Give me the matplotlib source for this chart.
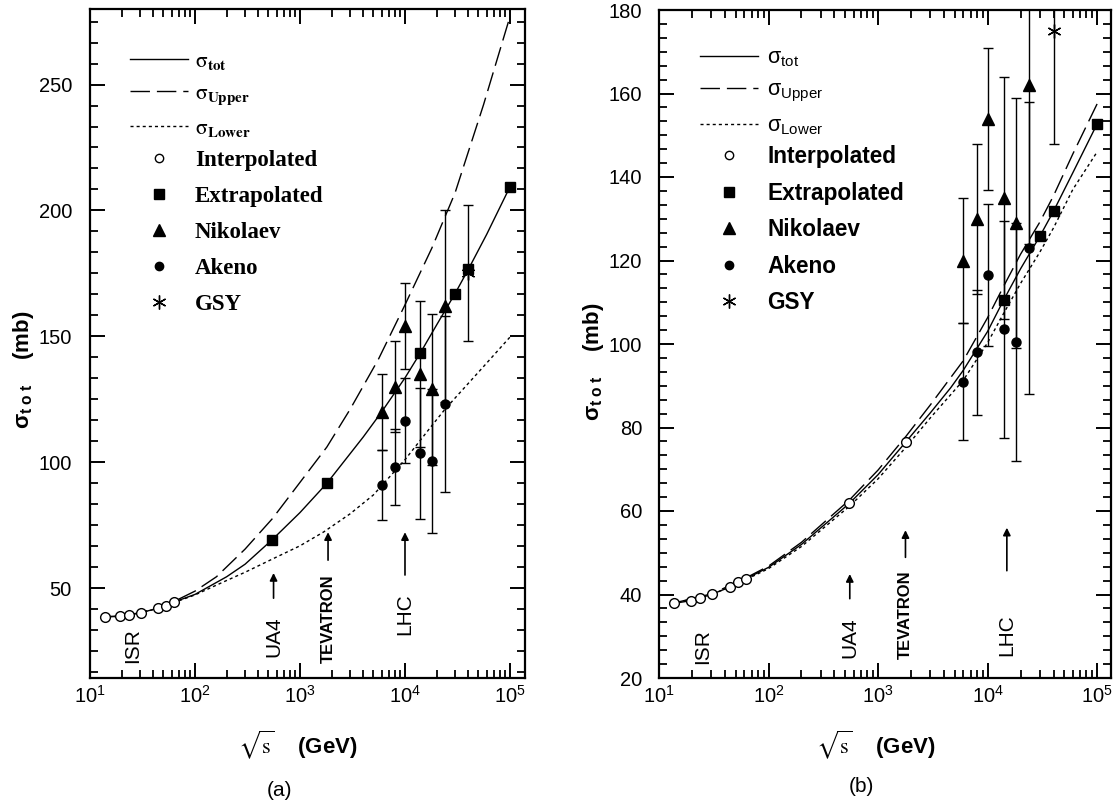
import matplotlib
matplotlib.use('Agg')
import matplotlib.pyplot as plt
from matplotlib.lines import Line2D
from matplotlib.font_manager import FontProperties
from matplotlib.ticker import LogLocator, MultipleLocator, NullFormatter

plt.rcParams['font.family'] = ['Liberation Sans', 'DejaVu Sans']
plt.rcParams['mathtext.fontset'] = 'custom'
plt.rcParams['mathtext.rm'] = 'Liberation Sans'
plt.rcParams['mathtext.bf'] = 'Liberation Sans:bold'
plt.rcParams['mathtext.it'] = 'Liberation Sans:italic'
plt.rcParams['mathtext.sf'] = 'Liberation Sans'
plt.rcParams['lines.scale_dashes'] = False

# ---------------- data: panel (a) ----------------
tot_a_x = [13.0, 13.8, 19.4, 23.5, 30.6, 44.7, 52.8, 62.5, 100, 200, 300, 546, 1000, 1800,
           4000, 6000, 10000, 14000, 20000, 30000, 40000, 60000, 100000]
tot_a_y = [38.6, 38.6, 38.8, 39.5, 40.2, 42.1, 43.0, 44.4, 47.5, 54.5, 59.5, 69.3, 80.0, 91.6,
           110.0, 120.0, 133.5, 143.4, 154.5, 167.0, 176.5, 190.5, 209.4]
up_a_x = [13.0, 20, 30, 45, 62.5, 100, 160, 300, 546, 1000, 1800, 3000, 5600, 10000,
          18000, 30000, 56000, 100000]
up_a_y = [38.6, 38.9, 40.2, 42.3, 44.6, 48.8, 54.5, 65.5, 77.6, 92.0, 106.0, 121.0, 141.0,
          162.5, 185.0, 207.0, 242.0, 277.0]
lo_a_x = [13.0, 20, 30, 45, 62.5, 100, 190, 300, 562, 1000, 1680, 3000, 5000, 10000,
          18000, 24000, 30000, 56000, 100000]
lo_a_y = [38.6, 38.8, 40.1, 42.0, 44.2, 47.3, 52.6, 56.3, 61.8, 66.8, 72.3, 79.5, 87.0,
          101.0, 114.5, 121.0, 125.5, 138.0, 149.7]
interp_a_x = [13.8, 19.4, 23.5, 30.6, 44.7, 52.8, 62.5]
interp_a_y = [38.6, 38.8, 39.5, 40.2, 42.1, 43.0, 44.4]
extrap_a_x = [546, 1800, 14000, 30000, 40000, 100000]
extrap_a_y = [69.3, 91.6, 143.4, 167.0, 176.9, 209.4]

# ---------------- data: panel (b) ----------------
tot_b_x = [13.0, 13.8, 19.4, 23.5, 30.6, 44.7, 52.8, 62.5, 100, 200, 546, 1000, 1800, 3000,
           4600, 6000, 10000, 14000, 20000, 30000, 40000, 60000, 100000]
tot_b_y = [37.8, 37.9, 38.5, 39.1, 40.1, 41.8, 42.9, 43.8, 46.5, 52.0, 61.8, 68.7, 76.6, 83.5,
           89.5, 93.7, 103.0, 110.5, 118.0, 125.8, 131.8, 141.0, 152.7]
up_b_x = [13.0, 30.6, 62.5, 100, 200, 546, 1000, 1800, 3000, 6000, 10000, 14000, 20000,
          30000, 40000, 60000, 100000]
up_b_y = [37.8, 40.2, 44.0, 46.8, 52.5, 62.6, 69.8, 77.9, 85.4, 96.0, 106.3, 113.8, 121.5,
          129.2, 135.5, 145.5, 157.5]
lo_b_x = up_b_x
lo_b_y = [37.8, 40.0, 43.6, 46.2, 51.5, 61.1, 67.7, 75.3, 82.3, 91.3, 100.3, 107.3, 114.5,
          122.0, 127.8, 137.0, 146.0]
interp_b_x = [13.8, 19.4, 23.5, 30.6, 44.7, 52.8, 62.5, 546, 1800]
interp_b_y = [37.9, 38.5, 39.1, 40.1, 41.8, 42.9, 43.8, 61.8, 76.6]
extrap_b_x = [14000, 30000, 40000, 100000]
extrap_b_y = [110.5, 125.8, 131.8, 152.7]

# ---------------- cosmic-ray data (both panels) ----------------
nik_x = [6000, 8000, 10000, 14000, 18000, 24000]
nik_y = [120.0, 130.0, 154.0, 135.0, 129.0, 162.0]
nik_e = [15.0, 18.0, 17.0, 29.0, 30.0, 38.0]
ake_x = [6000, 8000, 10000, 14000, 18000, 24000]
ake_y = [91.0, 98.0, 116.5, 103.5, 100.5, 123.0]
ake_e = [14.0, 15.0, 17.0, 26.0, 28.5, 35.0]
gsy_x = [40000]
gsy_y = [175.0]
gsy_e = [27.0]

# ---------------- annotations ----------------
lab_text = ['ISR', 'UA4', 'TEVATRON', 'LHC']
lab_a_x = [25.6, 560, 1850, 10000]
lab_a_y = [20.2, 22.6, 20.2, 31.3]
arr_a_x = [560, 1850, 10000]
arr_a_tail = [46.0, 61.1, 55.2]
arr_a_head = [56.0, 72.2, 72.2]
lab_b_x = [24.8, 552, 1780, 15000]
lab_b_y = [23.4, 24.8, 24.6, 25.3]
arr_b_x = [552, 1780, 15000]
arr_b_tail = [39.0, 48.9, 45.7]
arr_b_head = [44.9, 55.4, 56.0]

W, H = 1114, 807
fig = plt.figure(figsize=(W / 100, H / 100), dpi=100)
ax1 = fig.add_axes([90 / W, (H - 678) / H, 435 / W, 669 / H])
ax2 = fig.add_axes([659 / W, (H - 678) / H, 452 / W, 668 / H])

DASH = (14, 5)
DOT = (2.2, 2.2)
STAR = (6, 2, 0)


def draw(ax, tx, ty, ux, uy, lx, ly, ix, iy, ex, ey):
    ax.plot(tx, ty, color='k', lw=1.0, zorder=2)
    ax.plot(ux, uy, color='k', lw=1.0, dashes=DASH, zorder=2)
    ax.plot(lx, ly, color='k', lw=1.0, dashes=DOT, zorder=2)
    ax.plot(ix, iy, 'o', ms=7, mfc='white', mec='k', mew=1.0, zorder=4)
    ax.plot(ex, ey, 's', ms=7, color='k', zorder=4)
    ax.errorbar(nik_x, nik_y, yerr=nik_e, fmt='^', ms=8.5, color='k', ecolor='k',
                elinewidth=1.0, capsize=3.5, capthick=1.0, zorder=3)
    ax.errorbar(ake_x, ake_y, yerr=ake_e, fmt='o', ms=6.5, color='k', ecolor='k',
                elinewidth=1.0, capsize=3.5, capthick=1.0, zorder=3)
    ax.errorbar(gsy_x, gsy_y, yerr=gsy_e, fmt='none', ecolor='k',
                elinewidth=1.0, capsize=3.5, capthick=1.0, zorder=3)
    ax.plot(gsy_x, gsy_y, ls='none', marker=STAR, ms=10, color='k', mew=1.0, zorder=4)


draw(ax1, tot_a_x, tot_a_y, up_a_x, up_a_y, lo_a_x, lo_a_y,
     interp_a_x, interp_a_y, extrap_a_x, extrap_a_y)
draw(ax2, tot_b_x, tot_b_y, up_b_x, up_b_y, lo_b_x, lo_b_y,
     interp_b_x, interp_b_y, extrap_b_x, extrap_b_y)

for ax, lx, ly, axx, at, ah in [(ax1, lab_a_x, lab_a_y, arr_a_x, arr_a_tail, arr_a_head),
                                (ax2, lab_b_x, lab_b_y, arr_b_x, arr_b_tail, arr_b_head)]:
    for t, x, y in zip(lab_text, lx, ly):
        if t == 'TEVATRON':
            ax.text(x, y, t, rotation=90, ha='center', va='bottom', fontsize=12,
                    fontweight='bold')
        else:
            ax.text(x, y, t, rotation=90, ha='center', va='bottom', fontsize=15)
    for x, y0, y1 in zip(axx, at, ah):
        ax.annotate('', xy=(x, y1), xytext=(x, y0),
                    arrowprops=dict(arrowstyle='-|>', color='k', lw=1.2,
                                    mutation_scale=11, shrinkA=0, shrinkB=0))

ax1.set_ylim(14.3, 280)
ax2.set_ylim(20, 180)
ax1.yaxis.set_major_locator(MultipleLocator(50))
ax1.yaxis.set_minor_locator(MultipleLocator(50 / 6))
ax2.yaxis.set_major_locator(MultipleLocator(20))
ax2.yaxis.set_minor_locator(MultipleLocator(20 / 6))

for ax, ypad in [(ax1, 13), (ax2, 12)]:
    ax.set_xscale('log')
    ax.xaxis.set_major_locator(LogLocator(base=10, numticks=10))
    ax.xaxis.set_minor_locator(LogLocator(base=10, subs=range(2, 10), numticks=20))
    ax.xaxis.set_minor_formatter(NullFormatter())
    for s in ax.spines.values():
        s.set_linewidth(1.6)
    ax.tick_params(which='major', direction='in', top=True, right=True,
                   length=11, width=1.4, labelsize=14.5)
    ax.tick_params(which='minor', direction='in', top=True, right=True,
                   length=5.5, width=1.3)
    ax.tick_params(axis='y', which='major', pad=ypad)
    ax.tick_params(axis='x', which='major', pad=5)

ax1.set_xlim(10, 10 ** 5.143)
ax2.set_xlim(10, 10 ** 5.127)

# legends: curves
line_handles = [Line2D([], [], color='k', lw=1.0),
                Line2D([], [], color='k', lw=1.0, dashes=DASH),
                Line2D([], [], color='k', lw=1.0, dashes=DOT)]
mark_handles = [Line2D([], [], ls='none', marker='o', ms=6, mfc='white', mec='k', mew=1.0),
                Line2D([], [], ls='none', marker='s', ms=6.5, color='k'),
                Line2D([], [], ls='none', marker='^', ms=8, color='k'),
                Line2D([], [], ls='none', marker='o', ms=6, color='k'),
                Line2D([], [], ls='none', marker=STAR, ms=10, color='k', mew=1.0)]
names = ['Interpolated', 'Extrapolated', 'Nikolaev', 'Akeno', 'GSY']
labels_a = [r'$\mathrm{\sigma}_{\mathbf{tot}}$', r'$\mathrm{\sigma}_{\mathbf{Upper}}$',
            r'$\mathrm{\sigma}_{\mathbf{Lower}}$']
labels_b = [r'$\mathrm{\sigma}_{\mathrm{tot}}$', r'$\mathrm{\sigma}_{\mathrm{Upper}}$',
            r'$\mathrm{\sigma}_{\mathrm{Lower}}$']

lprop_a = FontProperties(family='Liberation Serif', weight='bold', size=15.5, math_fontfamily='stix')
lprop_b = FontProperties(family='Liberation Sans', weight='bold', size=15.5, math_fontfamily='custom')
mprop_a = FontProperties(family='Liberation Serif', weight='bold', size=16.5)
mprop_b = FontProperties(family='Liberation Sans', weight='bold', size=16.3)

leg_a1 = ax1.legend(line_handles, labels_a, prop=lprop_a, loc='upper left',
                    bbox_to_anchor=(0.092, 0.936), frameon=False, borderpad=0,
                    borderaxespad=0, handlelength=58 / 21.5, handletextpad=0.33,
                    labelspacing=0.55)
ax1.add_artist(leg_a1)
ax1.legend(mark_handles, names, prop=mprop_a, loc='upper left',
           bbox_to_anchor=(0.092, 0.790), frameon=False, borderpad=0,
           borderaxespad=0, handlelength=58 / 22.9, handletextpad=0.3,
           labelspacing=0.66, numpoints=1)

leg_b1 = ax2.legend(line_handles, labels_b, prop=lprop_b, loc='upper left',
                    bbox_to_anchor=(0.0907, 0.944), frameon=False, borderpad=0,
                    borderaxespad=0, handlelength=58 / 21.5, handletextpad=0.4,
                    labelspacing=0.5)
ax2.add_artist(leg_b1)
ax2.legend(mark_handles, names, prop=mprop_b, loc='upper left',
           bbox_to_anchor=(0.0907, 0.798), frameon=False, borderpad=0,
           borderaxespad=0, handlelength=58 / 22.6, handletextpad=0.4,
           labelspacing=0.6, numpoints=1)

# axis titles
ylab = r'$\mathbf{\sigma}_{\mathbf{t\ o\ t}}$    (mb)'
fig.text(24 / W, 1 - 370 / H, ylab, rotation=90, ha='center', va='center',
         fontsize=16, fontweight='bold')
fig.text(593 / W, 1 - 362 / H, ylab, rotation=90, ha='center', va='center',
         fontsize=16, fontweight='bold')
xlab = r'$\sqrt{\mathrm{s}}$    (GeV)'
for xc in (298, 876):
    fig.text(xc / W, 1 - 745 / H, xlab, ha='center', va='center', fontsize=16,
             fontweight='bold', math_fontfamily='stix')
fig.text(280 / W, 1 - 790 / H, '(a)', ha='center', va='center', fontsize=15)
fig.text(861 / W, 1 - 786 / H, '(b)', ha='center', va='center', fontsize=15)

fig.savefig('out.png', dpi=100)
